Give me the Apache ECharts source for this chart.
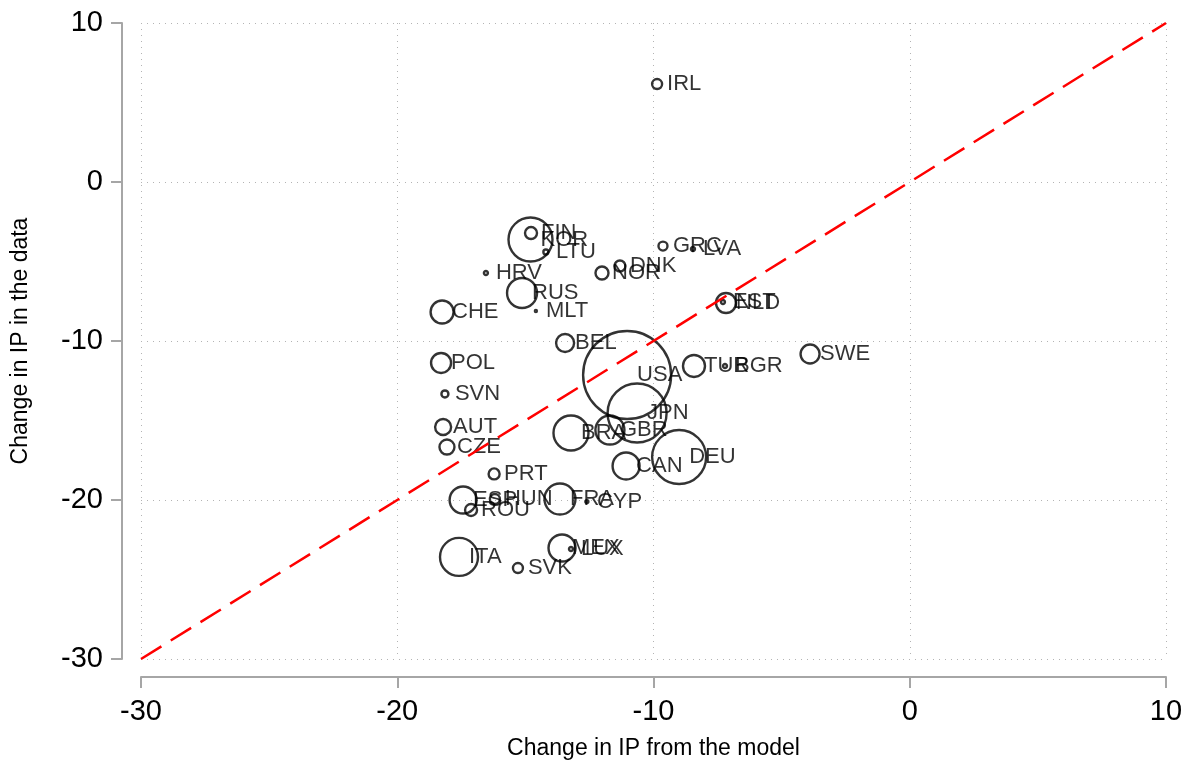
<!DOCTYPE html>
<html>
<head>
<meta charset="utf-8">
<script src="https://cdn.jsdelivr.net/npm/echarts@6/dist/echarts.min.js"></script>
<style>
  html, body { margin: 0; padding: 0; background: #fff; }
  #chart { width: 1193px; height: 765px; }
</style>
</head>
<body>
<div id="chart"></div>
<script>
// countries, model-predicted change (x), observed change (y), marker weight
const countries = ['IRL', 'FIN', 'KOR', 'LTU', 'HRV', 'RUS', 'MLT', 'CHE', 'NOR', 'DNK',
  'GRC', 'LVA', 'EST', 'NLD', 'SWE', 'TUR', 'BGR', 'BEL', 'USA', 'JPN',
  'BRA', 'GBR', 'CAN', 'DEU', 'POL', 'SVN', 'AUT', 'CZE', 'PRT', 'ESP',
  'HUN', 'ROU', 'FRA', 'CYP', 'ITA', 'SVK', 'MEX', 'LUX'];
const modelChange = [-9.86, -14.78, -14.8, -14.2, -16.54, -15.13, -14.59, -18.25, -12.01, -11.31,
  -9.63, -8.46, -7.29, -7.17, -3.89, -8.42, -7.21, -13.45, -11.03, -10.64,
  -13.22, -11.7, -11.07, -9.0, -18.29, -18.14, -18.21, -18.06, -16.22, -17.43,
  -16.19, -17.12, -13.65, -12.6, -17.59, -15.29, -13.57, -13.22];
const dataChange = [6.16, -3.21, -3.62, -4.4, -5.72, -6.98, -8.11, -8.18, -5.72, -5.28,
  -4.03, -4.21, -7.55, -7.61, -10.82, -11.57, -11.57, -10.13, -12.14, -14.53,
  -15.79, -15.6, -17.86, -17.3, -11.38, -13.33, -15.41, -16.67, -18.36, -20.0,
  -19.94, -20.63, -19.94, -20.1, -23.58, -24.28, -23.02, -23.08];
const weight = [100, 144, 1936, 25, 16, 900, 4, 529, 169, 121,
  81, 16, 16, 400, 361, 484, 16, 324, 7744, 3481,
  1225, 841, 729, 2916, 400, 49, 256, 225, 121, 729,
  100, 144, 961, 9, 1444, 100, 729, 16];
const xTicks = [-30, -20, -10, 0, 10];
const yTicks = [-30, -20, -10, 0, 10];
const diagonal = [[-30, -30], [10, 10]];

const font = '"Liberation Sans", Helvetica, Arial, sans-serif';
const points = countries.map((c, i) => [modelChange[i], dataChange[i], weight[i], c]);

const chart = echarts.init(document.getElementById('chart'));

const axisCommon = {
  type: 'value',
  interval: 10,
  axisLine: { show: true, onZero: false, lineStyle: { color: '#a6a6a6', width: 2 } },
  axisTick: { show: true, length: 11, lineStyle: { color: '#a6a6a6', width: 2 } },
  axisLabel: { color: '#000', fontSize: 29, fontFamily: font },
  splitLine: { show: true, lineStyle: { color: '#b4b4b4', type: [1, 5], width: 1 } },
  nameLocation: 'middle',
  nameTextStyle: { color: '#000', fontSize: 23, fontFamily: font }
};

chart.setOption({
  animation: false,
  backgroundColor: '#fff',
  grid: { left: 141, right: 27, top: 23, bottom: 106 },
  xAxis: Object.assign({}, axisCommon, {
    min: xTicks[0], max: xTicks[xTicks.length - 1],
    offset: 18,
    name: 'Change in IP from the model',
    nameGap: 60,
    axisLabel: Object.assign({}, axisCommon.axisLabel, { margin: 20 })
  }),
  yAxis: Object.assign({}, axisCommon, {
    min: yTicks[0], max: yTicks[yTicks.length - 1],
    offset: 19,
    name: 'Change in IP in the data',
    nameGap: 90,
    axisLabel: Object.assign({}, axisCommon.axisLabel, { margin: 19 })
  }),
  series: [
    {
      type: 'scatter',
      data: points,
      symbol: 'circle',
      symbolSize: d => Math.sqrt(d[2]),
      itemStyle: { color: 'rgba(0,0,0,0)', borderColor: '#000', borderWidth: 2.4 },
      z: 2
    },
    {
      type: 'scatter',
      data: points,
      symbolSize: 0,
      itemStyle: { color: 'rgba(0,0,0,0)' },
      label: {
        show: true,
        position: 'right',
        distance: 10,
        formatter: p => p.data[3],
        color: '#000',
        fontSize: 22,
        fontFamily: font
      },
      z: 3
    },
    {
      type: 'line',
      data: diagonal,
      symbol: 'none',
      lineStyle: { color: '#ff0000', width: 2.5, type: [24, 11] },
      z: 4
    }
  ]
});
</script>
</body>
</html>
